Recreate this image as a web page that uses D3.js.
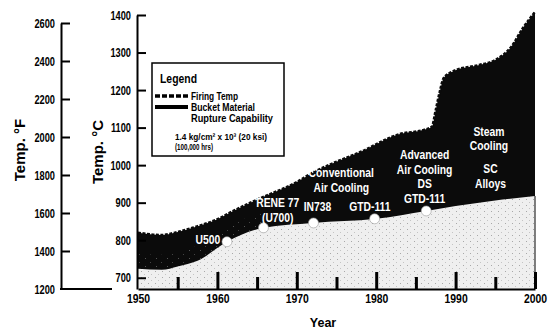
<!DOCTYPE html>
<html>
<head>
<meta charset="utf-8">
<script src="https://cdn.jsdelivr.net/npm/d3@7"></script>
<style>
  body { margin: 0; background: #fff; }
  svg { display: block; }
  .narrow { font-family: "Liberation Sans", Arial, sans-serif; font-weight: bold; }
  .ttl { font-family: "Liberation Sans", Arial, sans-serif; font-weight: bold; }
</style>
</head>
<body>
<svg width="553" height="334"></svg>
<script>
// firing temperature (deg C) - top of the dark band
var years = [1950, 1953, 1955, 1957, 1960, 1962, 1965, 1970, 1972, 1974, 1978, 1983, 1986, 1987, 1987.5, 1988, 1988.5, 1989.5, 1990, 1993, 1995, 1997, 1998.5, 2000];
var firingTemp = [820, 814, 822, 834, 856, 878, 908, 955, 980, 1000, 1035, 1083, 1094, 1102, 1147, 1195, 1232, 1248, 1253, 1267, 1280, 1315, 1366, 1408];

// bucket material rupture capability (deg C) - top of the light band
var bucketYears = [1950, 1953, 1955, 1957.5, 1961.2, 1965.8, 1972, 1980, 1986.3, 1990, 1995, 2000];
var bucketTemp = [724, 721, 730, 745, 796, 833, 846, 857, 878, 891, 906, 918];

// bucket alloys on the capability line
var materials = ["U500", "RENE 77", "IN738", "GTD-111", "DS GTD-111"];
var materialYears = [1961.2, 1965.8, 1972.1, 1979.8, 1986.3];
var materialTemps = [796, 833, 846, 857, 878];

// axis ticks
var tempCTicks = [700, 800, 900, 1000, 1100, 1200, 1300, 1400];
var tempFTicks = [1200, 1400, 1600, 1800, 2000, 2200, 2400, 2600];
var yearTicks = [1950, 1960, 1970, 1980, 1990, 2000];
var halfTicks = [1955, 1965, 1975, 1985, 1995];

var svg = d3.select("svg");

var x = d3.scaleLinear().domain([1950, 2000]).range([138, 535]);
var yC = d3.scaleLinear().domain([670, 1400]).range([289, 15]);
var yF = d3.scaleLinear().domain([1200, 2600]).range([289, 23]);

// squeeze text horizontally (the scan uses a condensed face)
function squeeze(sel, f) {
  sel.each(function() {
    var w = this.getComputedTextLength();
    d3.select(this).attr("textLength", w * f).attr("lengthAdjust", "spacingAndGlyphs");
  });
}

// stipple for the light area
var defs = svg.append("defs");
var pat = defs.append("pattern").attr("id", "stip")
    .attr("width", 7).attr("height", 6).attr("patternUnits", "userSpaceOnUse");
pat.append("rect").attr("width", 7).attr("height", 6).attr("fill", "#efefef");
pat.append("rect").attr("x", 1).attr("y", 1).attr("width", 1).attr("height", 1).attr("fill", "#a8a8a8");
pat.append("rect").attr("x", 4).attr("y", 4).attr("width", 1).attr("height", 1).attr("fill", "#c4c4c4");
var pat2 = defs.append("pattern").attr("id", "speck")
    .attr("width", 11).attr("height", 8).attr("patternUnits", "userSpaceOnUse");
pat2.append("rect").attr("width", 11).attr("height", 8).attr("fill", "#0b0b0b");
pat2.append("rect").attr("x", 2).attr("y", 2).attr("width", 1).attr("height", 1).attr("fill", "#555");
pat2.append("rect").attr("x", 7).attr("y", 6).attr("width", 1).attr("height", 1).attr("fill", "#444");

var fireData = years.map(function(d, i) { return {year: d, t: firingTemp[i]}; });
var bucketData = bucketYears.map(function(d, i) { return {year: d, t: bucketTemp[i]}; });

var band = d3.area()
    .x(function(d) { return x(d.year); })
    .y0(yC(670))
    .y1(function(d) { return yC(d.t); })
    .curve(d3.curveMonotoneX);

svg.append("path").datum(fireData)
    .attr("d", band)
    .attr("fill", "#0b0b0b");

// speckled strip just above the light band (left part)
svg.append("path").datum(bucketData.filter(function(d) { return d.year <= 1966; }).map(function(d) { return {year: d.year, t: d.t + 40}; }))
    .attr("d", band)
    .attr("fill", "url(#speck)");

// dotted firing temp line gives the ragged top edge
svg.append("path").datum(fireData)
    .attr("d", d3.line().x(function(d) { return x(d.year); }).y(function(d) { return yC(d.t); }).curve(d3.curveMonotoneX))
    .attr("fill", "none").attr("stroke", "#0b0b0b")
    .attr("stroke-width", 2.5).attr("stroke-dasharray", "3,1.5");

svg.append("path").datum(bucketData)
    .attr("d", band)
    .attr("fill", "url(#stip)");

// right edge of the light band
svg.append("line")
    .attr("x1", x(2000)).attr("x2", x(2000))
    .attr("y1", yC(bucketTemp[bucketTemp.length - 1])).attr("y2", yC(670))
    .attr("stroke", "#555").attr("stroke-width", 1.5);

// alloy markers
svg.selectAll(".dot")
    .data(materials)
    .enter().append("circle")
    .attr("class", "dot")
    .attr("cx", function(d, i) { return x(materialYears[i]); })
    .attr("cy", function(d, i) { return yC(materialTemps[i]); })
    .attr("r", 5)
    .attr("fill", "#fff")
    .attr("stroke", "#999")
    .attr("stroke-width", 0.6);

// labels inside the chart
var labels = [
  {year: 1958.8, t: 790, lines: ["U500"]},
  {year: 1967.6, t: 888, lines: ["RENE 77", "(U700)"]},
  {year: 1975.6, t: 968, lines: ["Conventional", "Air Cooling"]},
  {year: 1972.6, t: 878, lines: ["IN738"]},
  {year: 1979.2, t: 878, lines: ["GTD-111"]},
  {year: 1986.1, t: 1016, lines: ["Advanced", "Air Cooling", "DS", "GTD-111"]},
  {year: 1994.2, t: 1078, lines: ["Steam", "Cooling"]},
  {year: 1994.4, t: 979, lines: ["SC", "Alloys"]}
];
labels.forEach(function(l) {
  var t = svg.append("text")
      .attr("class", "narrow")
      .attr("text-anchor", "middle")
      .attr("font-size", 12)
      .attr("fill", "#fff")
      .attr("x", x(l.year))
      .attr("y", yC(l.t));
  l.lines.forEach(function(s, i) {
    t.append("tspan").attr("x", x(l.year)).attr("dy", i ? 14.5 : 0).text(s);
  });
  squeeze(t.selectAll("tspan"), 0.86);
});

// x axis
var xAxis = d3.axisBottom(x).tickValues(yearTicks)
    .tickSizeInner(-17).tickSizeOuter(0).tickPadding(5)
    .tickFormat(d3.format("d"));
var gx = svg.append("g").attr("transform", "translate(0,289)").call(xAxis);
var gx2 = svg.append("g").attr("transform", "translate(0,289)")
    .call(d3.axisBottom(x).tickValues(halfTicks).tickSizeInner(-12).tickSizeOuter(0).tickFormat(""));
gx2.select(".domain").remove();
[gx, gx2].forEach(function(g) {
  g.select(".domain").attr("stroke", "#000").attr("stroke-width", 2);
  g.selectAll(".tick line").attr("stroke", "#000").attr("stroke-width", 3);
  g.selectAll(".tick text").attr("class", "narrow").attr("font-size", 13).attr("fill", "#000");
});
gx.selectAll(".tick").filter(function(d) { return d === 1950; }).select("line").remove();
squeeze(gx.selectAll(".tick text"), 0.8);

// deg C axis
var gc = svg.append("g").attr("transform", "translate(137,0)")
    .call(d3.axisLeft(yC).tickValues(tempCTicks).tickSizeInner(-9).tickSizeOuter(0).tickPadding(6).tickFormat(d3.format("d")));
// deg F axis
var gf = svg.append("g").attr("transform", "translate(61,0)")
    .call(d3.axisLeft(yF).tickValues(tempFTicks).tickSizeInner(-9).tickSizeOuter(0).tickPadding(6).tickFormat(d3.format("d")));
[gc, gf].forEach(function(g) {
  g.select(".domain").attr("stroke", "#000").attr("stroke-width", 2);
  g.selectAll(".tick line").attr("stroke", "#000").attr("stroke-width", 2);
  g.selectAll(".tick text").attr("class", "narrow").attr("font-size", 12.5).attr("fill", "#000");
  squeeze(g.selectAll(".tick text"), 0.74);
});
gf.selectAll(".tick").filter(function(d) { return d === 1200; }).select("line").remove();
svg.append("line").attr("x1", 60).attr("x2", 112).attr("y1", 289).attr("y2", 289)
    .attr("stroke", "#000").attr("stroke-width", 2);

// axis titles
svg.append("text").attr("class", "ttl").attr("font-size", 15)
    .attr("text-anchor", "middle")
    .attr("transform", "translate(25,150) rotate(-90)")
    .text("Temp. °F");
svg.append("text").attr("class", "ttl").attr("font-size", 15)
    .attr("text-anchor", "middle")
    .attr("transform", "translate(103,152) rotate(-90)")
    .text("Temp. °C");
svg.append("text").attr("class", "ttl").attr("font-size", 12.5)
    .attr("text-anchor", "middle")
    .attr("x", 323).attr("y", 327)
    .text("Year");

// legend
var lg = svg.append("g").attr("transform", "translate(152,63)");
lg.append("rect").attr("width", 132).attr("height", 93)
    .attr("fill", "#fff").attr("stroke", "#000").attr("stroke-width", 1.5);
var lt = lg.append("text").attr("class", "narrow").attr("font-size", 13)
    .attr("x", 8).attr("y", 20).text("Legend");
squeeze(lt, 0.8);
lg.append("line").attr("x1", 3).attr("x2", 36).attr("y1", 33).attr("y2", 33)
    .attr("stroke", "#000").attr("stroke-width", 3.5).attr("stroke-dasharray", "5,2");
lg.append("line").attr("x1", 3).attr("x2", 36).attr("y1", 44).attr("y2", 44)
    .attr("stroke", "#000").attr("stroke-width", 4);
var legendLines = [
  {s: "Firing Temp", x: 39, y: 37, size: 11, w: 47},
  {s: "Bucket Material", x: 39, y: 48, size: 11, w: 64},
  {s: "Rupture Capability", x: 39, y: 59, size: 11, w: 82},
  {s: "1.4 kg/cm² x 10³ (20 ksi)", x: 23, y: 77, size: 9, w: 92},
  {s: "(100,000 hrs)", x: 23, y: 87, size: 9, w: 38}
];
legendLines.forEach(function(d) {
  lg.append("text").attr("class", "narrow").attr("font-size", d.size)
      .attr("x", d.x).attr("y", d.y)
      .attr("textLength", d.w).attr("lengthAdjust", "spacingAndGlyphs")
      .text(d.s);
});
</script>
</body>
</html>
